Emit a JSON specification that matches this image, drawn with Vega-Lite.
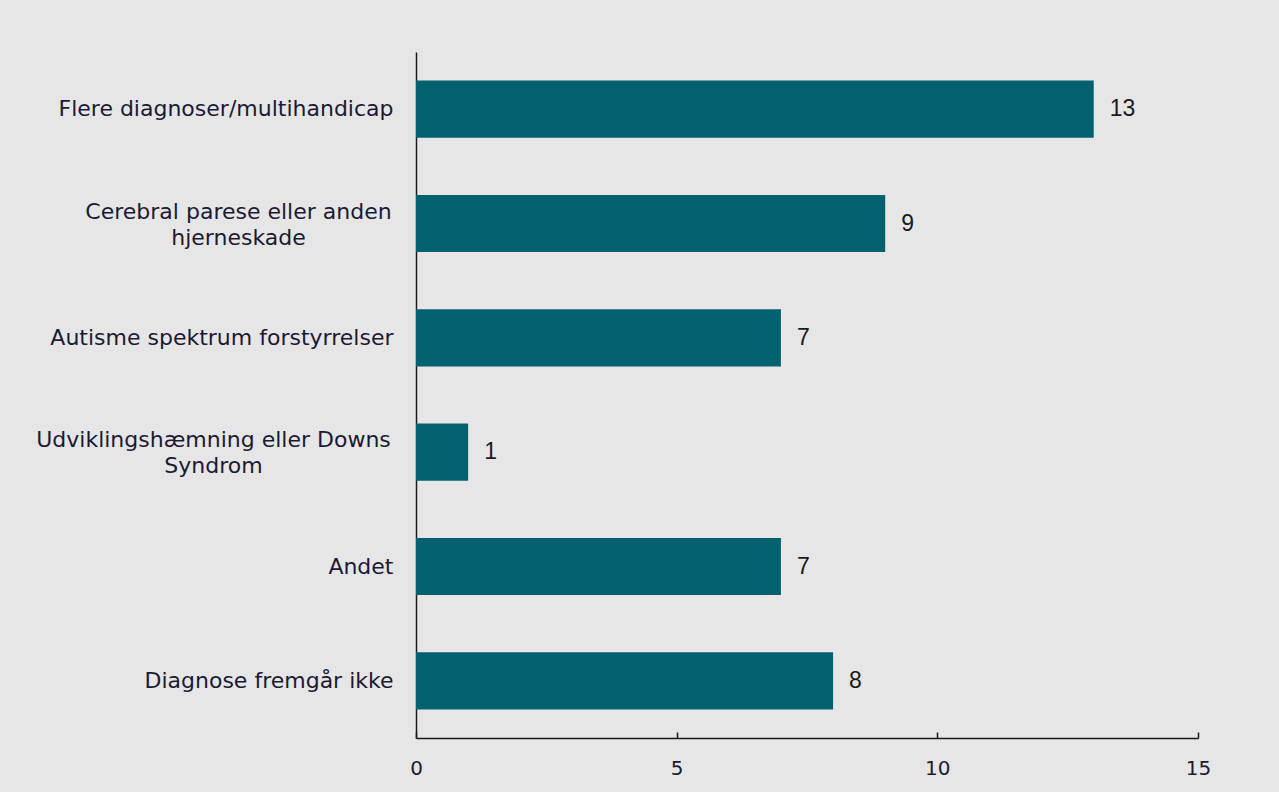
{
  "$schema": "https://vega.github.io/schema/vega-lite/v6.json",
  "width": 782,
  "height": 686,
  "autosize": {"type": "none"},
  "padding": {"left": 416, "top": 52, "right": 81, "bottom": 54},
  "background": "#e6e6e6",
  "config": {
    "view": {"stroke": null},
    "font": "DejaVu Sans"
  },
  "data": {
    "values": [
      {"kategori": "Flere diagnoser/multihandicap", "antal": 13, "orden": 1},
      {"kategori": "Cerebral parese eller anden|hjerneskade", "antal": 9, "orden": 2},
      {"kategori": "Autisme spektrum forstyrrelser", "antal": 7, "orden": 3},
      {"kategori": "Udviklingshæmning eller Downs|Syndrom", "antal": 1, "orden": 4},
      {"kategori": "Andet", "antal": 7, "orden": 5},
      {"kategori": "Diagnose fremgår ikke", "antal": 8, "orden": 6}
    ]
  },
  "encoding": {
    "y": {
      "field": "kategori",
      "type": "nominal",
      "sort": {"field": "orden"},
      "scale": {"paddingInner": 0.5, "paddingOuter": 0.25},
      "axis": {
        "title": null,
        "ticks": false,
        "domainColor": "#1a1a1a",
        "domainWidth": 1.5,
        "labelFont": "DejaVu Sans",
        "labelFontSize": 22,
        "labelColor": "#1c1a33",
        "labelLimit": 500,
        "labelLineHeight": 26,
        "labelExpr": "split(datum.label, '|')",
        "labelAlign": {"condition": {"test": "indexof(datum.value, '|') >= 0", "value": "center"}, "value": "right"},
        "labelOffset": {"condition": {"test": "indexof(datum.value, '|') >= 0", "value": -12}, "value": 0},
        "labelPadding": {"condition": [
          {"test": "indexof(datum.value, 'Cerebral') >= 0", "value": 178},
          {"test": "indexof(datum.value, 'Udvikling') >= 0", "value": 203}
        ], "value": 23}
      }
    },
    "x": {
      "field": "antal",
      "type": "quantitative",
      "scale": {"domain": [0, 15], "nice": false},
      "axis": {
        "title": null,
        "values": [0, 5, 10, 15],
        "grid": false,
        "labelFlush": false,
        "domainColor": "#1a1a1a",
        "domainWidth": 1.5,
        "tickColor": "#1a1a1a",
        "tickSize": -6,
        "tickWidth": 1.5,
        "labelFont": "DejaVu Sans",
        "labelFontSize": 20,
        "labelColor": "#1c1a33",
        "labelPadding": 26
      }
    }
  },
  "layer": [
    {"mark": {"type": "bar", "color": "#02606f"}},
    {
      "mark": {"type": "text", "align": "left", "dx": 16, "font": "Liberation Sans", "fontSize": 23, "color": "#1a1a1a"},
      "encoding": {"text": {"field": "antal", "type": "quantitative"}}
    }
  ]
}
